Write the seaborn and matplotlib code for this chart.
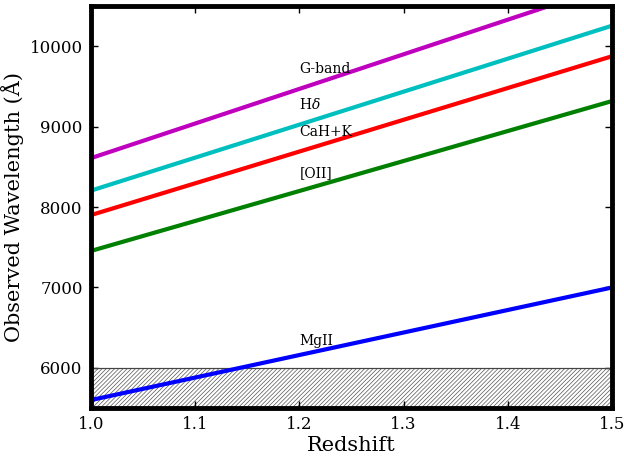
import numpy as np
import pandas as pd
import seaborn as sns
import matplotlib.pyplot as plt

redshift = [1.0, 1.5]
mgii = [5600, 7000]
oii = [7454, 9318]
cahk = [7900, 9875]
hdelta = [8204, 10255]
gband = [8608, 10760]

line_names = ["MgII", "[OII]", "CaH+K", r"H$\delta$", "G-band"]
line_colors = ["#0000ff", "#008000", "#ff0000", "#00bfbf", "#bf00bf"]
label_y = [6335, 8420, 8930, 9280, 9715]

plt.rcParams['font.family'] = ['DejaVu Serif']
plt.rcParams['mathtext.fontset'] = 'dejavuserif'
plt.rcParams['hatch.linewidth'] = 0.5

rows = []
for name, vals in zip(line_names, [mgii, oii, cahk, hdelta, gband]):
    for z, w in zip(redshift, vals):
        rows.append({"z": z, "wave": w, "line": name})
df = pd.DataFrame(rows)

fig = plt.figure(figsize=(6.24, 4.57), dpi=100)
ax = fig.add_axes([0.1458, 0.107, 0.8352, 0.880])

ax.axhspan(5500, 6000, facecolor='white', edgecolor='#555555', hatch='////////', linewidth=0.8)
ax.axhline(6000, color='#444444', linewidth=0.8)

sns.lineplot(data=df, x="z", y="wave", hue="line", hue_order=line_names,
             palette=line_colors, linewidth=3, legend=False, ax=ax)

for name, y in zip(line_names, label_y):
    ax.text(1.2, y, name, fontsize=10, va='center', ha='left')

ax.set_xlim(1.0, 1.5)
ax.set_ylim(5500, 10500)
ax.set_xticks([1.0, 1.1, 1.2, 1.3, 1.4, 1.5])
ax.set_yticks([6000, 7000, 8000, 9000, 10000])
ax.set_xlabel("Redshift", fontsize=15, labelpad=2)
ax.set_ylabel("Observed Wavelength (Å)", fontsize=15, labelpad=4)
ax.tick_params(direction='in', top=True, right=True, length=5, width=1, labelsize=12, pad=6)
for s in ax.spines.values():
    s.set_linewidth(3.5)

fig.savefig("out.png", dpi=100)
